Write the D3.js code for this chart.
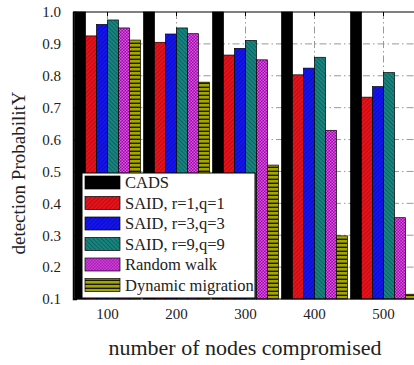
<!DOCTYPE html>
<html>
<head>
<meta charset="utf-8">
<script src="https://cdn.jsdelivr.net/npm/d3@7"></script>
<style>
  body { margin: 0; background: #fff; }
  svg { font-family: "Liberation Serif", "Times New Roman", serif; }
</style>
</head>
<body>
<svg></svg>
<script>
// data
var groups = ["100", "200", "300", "400", "500"];
var seriesNames = ["CADS", "SAID, r=1,q=1", "SAID, r=3,q=3", "SAID, r=9,q=9", "Random walk", "Dynamic migration"];
var cads    = [1.0, 1.0, 1.0, 1.0, 1.0];
var said1   = [0.925, 0.905, 0.865, 0.803, 0.733];
var said3   = [0.961, 0.931, 0.886, 0.824, 0.766];
var said9   = [0.975, 0.950, 0.911, 0.858, 0.810];
var randomWalk = [0.950, 0.932, 0.850, 0.629, 0.355];
var dynMigration = [0.912, 0.780, 0.520, 0.298, 0.115];
var yTicks = [0.1, 0.2, 0.3, 0.4, 0.5, 0.6, 0.7, 0.8, 0.9, 1.0];

var allSeries = [cads, said1, said3, said9, randomWalk, dynMigration];

var svgWidth = 414, svgHeight = 365;
var margin = {top: 12, left: 73, bottom: 299};
var svg = d3.select("svg").attr("width", svgWidth).attr("height", svgHeight);

// patterns for the hatched bars
var defs = svg.append("defs");
function hatch(id, bg, line, angle, gap, w) {
  var p = defs.append("pattern").attr("id", id).attr("patternUnits", "userSpaceOnUse")
    .attr("width", gap).attr("height", gap).attr("patternTransform", "rotate(" + angle + ")");
  p.append("rect").attr("width", gap).attr("height", gap).attr("fill", bg);
  p.append("line").attr("x1", 0).attr("y1", 0).attr("x2", 0).attr("y2", gap)
    .attr("stroke", line).attr("stroke-width", w);
}
hatch("pRed", "#e8121a", "#8a0a0a", 45, 3, 1);
hatch("pBlue", "#1414f0", "#06068a", 45, 3, 1);
hatch("pTeal", "#17857f", "#0b3f3c", -45, 3, 1);
// magenta checker
var pm = defs.append("pattern").attr("id", "pMag").attr("patternUnits", "userSpaceOnUse")
  .attr("width", 3).attr("height", 3);
pm.append("rect").attr("width", 3).attr("height", 3).attr("fill", "#a008ac");
pm.append("rect").attr("width", 1.5).attr("height", 1.5).attr("fill", "#d858e0");
pm.append("rect").attr("x", 1.5).attr("y", 1.5).attr("width", 1.5).attr("height", 1.5).attr("fill", "#d858e0");
// olive with horizontal black lines
var po = defs.append("pattern").attr("id", "pOlive").attr("patternUnits", "userSpaceOnUse")
  .attr("width", 4).attr("height", 4);
po.append("rect").attr("width", 4).attr("height", 4).attr("fill", "#a5a500");
po.append("rect").attr("y", 2.6).attr("width", 4).attr("height", 1.4).attr("fill", "#1a1a00");

var fills = ["#000", "url(#pRed)", "url(#pBlue)", "url(#pTeal)", "url(#pMag)", "url(#pOlive)"];

var xScale = d3.scaleBand().domain(groups).range([margin.left, 418])
    .paddingInner(0.045).paddingOuter(0.0225);
var x1 = d3.scaleBand().domain(d3.range(seriesNames.length)).range([0, xScale.bandwidth()]);
var yScale = d3.scaleLinear().domain([0.1, 1.0]).range([margin.bottom, margin.top]);

// grid, dash-dot
var grid = svg.append("g").attr("stroke", "#999").attr("stroke-width", 1)
  .attr("stroke-dasharray", "7,3,1.5,3");
grid.selectAll("line.h").data(yTicks.slice(1, -1)).enter().append("line")
  .attr("x1", margin.left).attr("x2", svgWidth)
  .attr("y1", function(d) { return yScale(d); }).attr("y2", function(d) { return yScale(d); });
grid.selectAll("line.v").data(groups).enter().append("line")
  .attr("x1", function(d) { return xScale(d) + xScale.bandwidth() / 2; })
  .attr("x2", function(d) { return xScale(d) + xScale.bandwidth() / 2; })
  .attr("y1", margin.top).attr("y2", margin.bottom);

// bars
var rows = [];
groups.forEach(function(g, gi) {
  allSeries.forEach(function(s, si) { rows.push({g: g, s: si, v: s[gi]}); });
});
svg.append("g").selectAll("rect").data(rows).enter().append("rect")
  .attr("x", function(d) { return xScale(d.g) + x1(d.s); })
  .attr("width", x1.bandwidth())
  .attr("y", function(d) { return yScale(d.v); })
  .attr("height", function(d) { return yScale(0.1) - yScale(d.v); })
  .attr("fill", function(d) { return fills[d.s]; })
  .attr("stroke", "#000").attr("stroke-width", 0.7);

// axes frame
svg.append("line").attr("x1", margin.left).attr("x2", svgWidth).attr("y1", margin.top).attr("y2", margin.top)
  .attr("stroke", "#000");
svg.append("line").attr("x1", margin.left).attr("x2", svgWidth).attr("y1", margin.bottom).attr("y2", margin.bottom)
  .attr("stroke", "#000");

var yAxis = d3.axisLeft(yScale).tickValues(yTicks).tickFormat(d3.format(".1f")).tickSize(-4).tickPadding(12);
var yg = svg.append("g").attr("transform", "translate(" + margin.left + ",0)").call(yAxis);
yg.select(".domain").attr("stroke-width", 1.5);
yg.selectAll("text").attr("font-size", 15).attr("font-family", "Liberation Serif").attr("fill", "#222");

var xAxis = d3.axisBottom(xScale).tickSize(0).tickPadding(9);
var xg = svg.append("g").attr("transform", "translate(0," + margin.bottom + ")").call(xAxis);
xg.select(".domain").remove();
xg.selectAll("text").attr("font-size", 15).attr("font-family", "Liberation Serif").attr("fill", "#222");

// top ticks
svg.append("g").selectAll("line").data(groups).enter().append("line")
  .attr("x1", function(d) { return xScale(d) + xScale.bandwidth() / 2; })
  .attr("x2", function(d) { return xScale(d) + xScale.bandwidth() / 2; })
  .attr("y1", margin.top).attr("y2", margin.top + 4).attr("stroke", "#000");

// titles
svg.append("text").attr("x", 245).attr("y", 355).attr("text-anchor", "middle")
  .attr("font-size", 22).attr("fill", "#222").text("number of nodes compromised");
svg.append("text").attr("transform", "translate(25,173) rotate(-90)").attr("text-anchor", "middle")
  .attr("font-size", 19).attr("fill", "#222").text("detection ProbabilitY");

// legend
var legend = svg.append("g");
legend.append("rect").attr("x", 82).attr("y", 173).attr("width", 173).attr("height", 125)
  .attr("fill", "#fff").attr("stroke", "#000").attr("stroke-width", 1);
var li = legend.selectAll("g.item").data(seriesNames).enter().append("g")
  .attr("transform", function(d, i) { return "translate(85," + (182.5 + i * 20.5) + ")"; });
li.append("rect").attr("x", 0).attr("y", -6.5).attr("width", 35).attr("height", 13)
  .attr("fill", function(d, i) { return fills[i]; }).attr("stroke", "#000").attr("stroke-width", 0.7);
li.append("text").attr("x", 40).attr("y", 5.5).attr("font-size", 16.5).attr("fill", "#222")
  .text(function(d) { return d; });
</script>
</body>
</html>
